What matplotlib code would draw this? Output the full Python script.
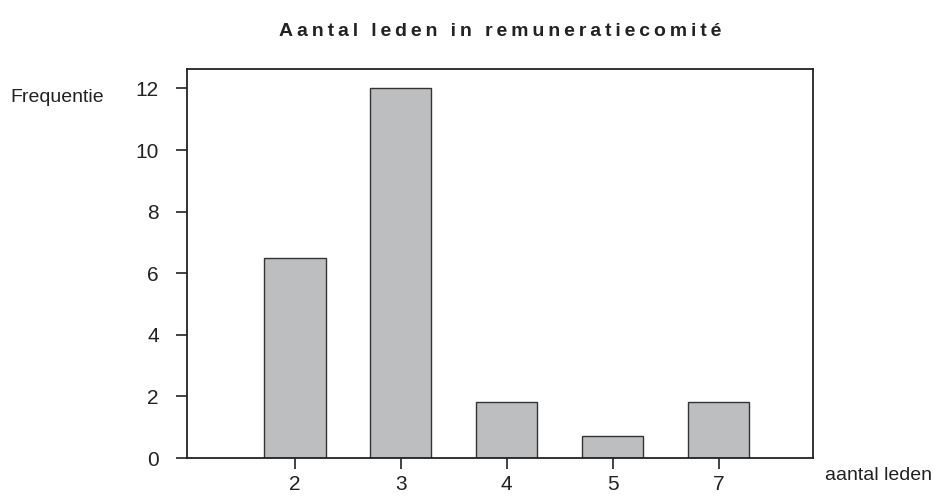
import numpy as np
import matplotlib.pyplot as plt

# Data
categories = ['2', '3', '4', '5', '7']
frequencies = [6.5, 12.0, 1.83, 0.72, 1.83]
yticks = [0, 2, 4, 6, 8, 10, 12]

plt.rcParams['font.family'] = ['Liberation Sans', 'DejaVu Sans']

W, H = 934, 496
fig = plt.figure(figsize=(W / 100, H / 100), dpi=100)

# axes box in pixels
left, right, top, bottom = 186.7, 813, 69, 458
ax = fig.add_axes([left / W, (H - bottom) / H, (right - left) / W, (bottom - top) / H])

x = np.arange(len(categories))
ax.bar(x, frequencies, width=0.58, color='#bdbec0', edgecolor='#333333', linewidth=1.0, zorder=2)

ax.set_xlim(-1.02, 4.89)
ax.set_ylim(0, 12.63)
ax.set_xticks(x)
ax.set_xticklabels(categories)
ax.set_yticks(yticks)
ax.tick_params(axis='both', direction='out', length=8, width=1.2, color='#222222',
               labelsize=15, labelcolor='#222222')
ax.tick_params(axis='y', pad=12)
ax.tick_params(axis='x', pad=4)
for s in ax.spines.values():
    s.set_linewidth(1.3)
    s.set_color('#222222')

# title with letter spacing
title = 'Aantal leden in remuneratiecomité'
spaced = '\u2009'.join(title)
fig.text((left + right) / 2 / W, 1 - 32 / H, spaced, ha='center', va='center',
         fontsize=14, fontweight='bold', color='#222222')

fig.text(10 / W, 1 - 97 / H, 'Frequentie', ha='left', va='center', fontsize=14, color='#222222')
fig.text(825 / W, 1 - 475 / H, 'aantal leden', ha='left', va='center', fontsize=14, color='#222222')

fig.savefig('out.png', dpi=100)
